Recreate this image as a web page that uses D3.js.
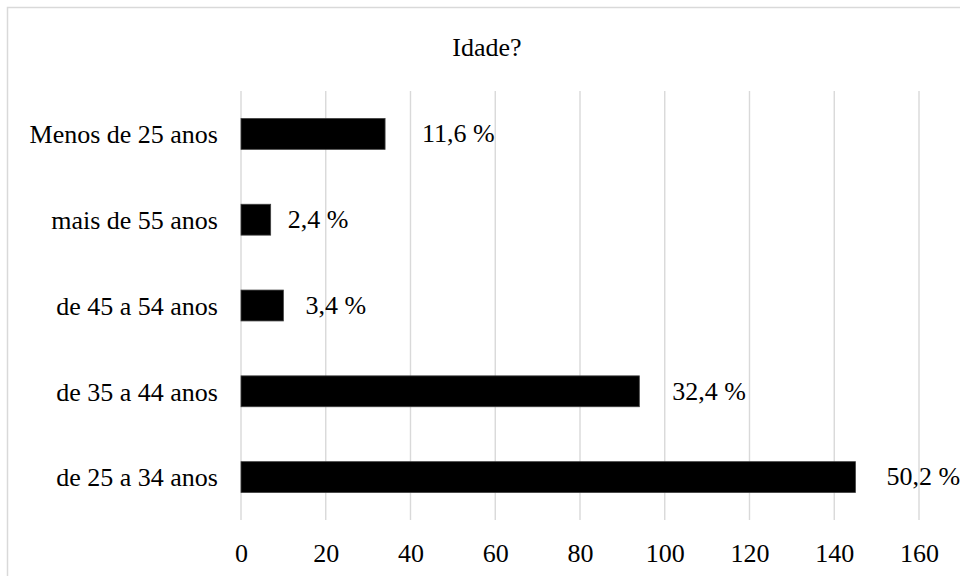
<!DOCTYPE html>
<html>
<head>
<meta charset="utf-8">
<script src="https://cdn.jsdelivr.net/npm/d3@7"></script>
<style>
  html, body { margin: 0; padding: 0; background: #fff; }
  svg { display: block; }
  svg text { font-family: "Liberation Serif", Tinos, "Times New Roman", Times, serif; }
</style>
</head>
<body>
<svg id="chart" width="960" height="576"></svg>
<script>
// Age groups, respondent counts and the percentage shown beside each bar
const categories = ["Menos de 25 anos", "mais de 55 anos", "de 45 a 54 anos", "de 35 a 44 anos", "de 25 a 34 anos"];
const counts = [34, 7, 10, 94, 145];
const percentLabels = ["11,6 %", "2,4 %", "3,4 %", "32,4 %", "50,2 %"];
const xTicks = [0, 20, 40, 60, 80, 100, 120, 140, 160];
const title = "Idade?";

const svg = d3.select("#chart");
const fontSize = 26;

// chart frame
svg.append("rect")
  .attr("x", 7.5).attr("y", 7.5)
  .attr("width", 1000).attr("height", 1000)
  .attr("fill", "none")
  .attr("stroke", "#d9d9d9")
  .attr("stroke-width", 1.5);

const x = d3.scaleLinear().domain([0, 160]).range([241, 919]);
const y = d3.scaleBand().domain(categories).range([91, 520])
  .paddingInner(0.64).paddingOuter(0.32);

// vertical gridlines
svg.append("g").selectAll("line")
  .data(xTicks)
  .join("line")
  .attr("x1", d => x(d)).attr("x2", d => x(d))
  .attr("y1", 91).attr("y2", 520)
  .attr("stroke", "#d9d9d9")
  .attr("stroke-width", 1.4);

// x axis tick labels
const xAxis = d3.axisBottom(x).tickValues(xTicks).tickSize(0).tickPadding(0);
const gx = svg.append("g").attr("transform", "translate(0,562)").call(xAxis)
  .attr("font-family", null).attr("font-size", null);
gx.select(".domain").remove();
gx.selectAll("text")
  .attr("dy", 0)
  .style("font-size", fontSize + "px")
  .attr("fill", "#000");

// category labels
const yAxis = d3.axisLeft(y).tickSize(0).tickPadding(0);
const gy = svg.append("g").attr("transform", "translate(218,0)").call(yAxis)
  .attr("font-family", null).attr("font-size", null);
gy.select(".domain").remove();
gy.selectAll("text")
  .attr("dy", "0.36em")
  .style("font-size", fontSize + "px")
  .attr("fill", "#000");

// bars
svg.append("g").selectAll("rect")
  .data(categories)
  .join("rect")
  .attr("x", x(0))
  .attr("y", d => y(d))
  .attr("width", (d, i) => x(counts[i]) - x(0))
  .attr("height", y.bandwidth())
  .attr("fill", "#000")
  .attr("stroke", "#404040")
  .attr("stroke-width", 0.8);

// value labels, each nudged clear of its bar end
const labelGap = [37, 17, 22, 33, 31];
svg.append("g").selectAll("text")
  .data(categories)
  .join("text")
  .attr("x", (d, i) => x(counts[i]) + labelGap[i])
  .attr("y", d => y(d) + y.bandwidth() / 2)
  .attr("dy", "0.32em")
  .style("font-size", fontSize + "px")
  .attr("fill", "#000")
  .text((d, i) => percentLabels[i]);

// title
svg.append("text")
  .attr("x", 487).attr("y", 56)
  .attr("text-anchor", "middle")
  .style("font-size", fontSize + "px")
  .attr("fill", "#000")
  .text(title);
</script>
</body>
</html>
